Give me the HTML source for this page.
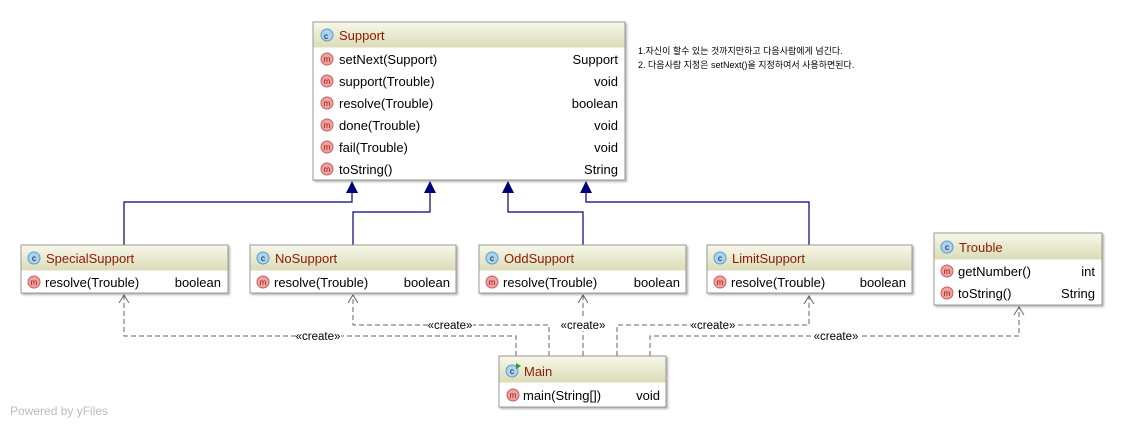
<!DOCTYPE html>
<html><head><meta charset="utf-8"><style>
html,body{margin:0;padding:0;background:#fff;}
svg{display:block;font-family:"Liberation Sans","Noto Sans CJK KR",sans-serif;}
</style></head><body>
<svg width="1129" height="428" viewBox="0 0 1129 428" xmlns="http://www.w3.org/2000/svg">
<defs>
<linearGradient id="hg" x1="0" y1="0" x2="0" y2="1"><stop offset="0" stop-color="#f7f7e9"/><stop offset="1" stop-color="#dcdcb8"/></linearGradient>
<filter id="sh" x="-5%" y="-5%" width="115%" height="120%"><feDropShadow dx="1.5" dy="1.5" stdDeviation="1" flood-color="#000" flood-opacity="0.3"/></filter>
</defs>
<!-- inheritance lines -->
<g stroke="#00007a" stroke-width="1.2" fill="none">
<polyline points="124,245 124,202 352,202 352,188"/>
<polyline points="353,245 353,212 430,212 430,188"/>
<polyline points="583,245 583,212 508,212 508,188"/>
<polyline points="809,245 809,202 586,202 586,188"/>
</g>
<g fill="#00007a">
<polygon points="352,181 346,193 358,193"/>
<polygon points="430,181 424,193 436,193"/>
<polygon points="508,181 502,193 514,193"/>
<polygon points="586,181 580,193 592,193"/>
</g>
<!-- dependency lines -->
<g stroke="#666" stroke-width="1" fill="none" stroke-dasharray="5,3">
<polyline points="516,356 516,336 124,336 124,295"/>
<polyline points="549,356 549,325 353,325 353,295"/>
<polyline points="583,356 583,295"/>
<polyline points="617,356 617,325 809,325 809,296"/>
<polyline points="650,356 650,336 1019,336 1019,307"/>
</g>
<g stroke="#666" stroke-width="1" fill="none">
<polyline points="119,303 124,295 129,303"/>
<polyline points="348,303 353,295 358,303"/>
<polyline points="578,303 583,295 588,303"/>
<polyline points="804,304 809,296 814,304"/>
<polyline points="1014,315 1019,307 1024,315"/>
</g>
<g font-size="11.5" fill="#000" text-anchor="middle">
<rect x="296" y="330" width="45" height="12" fill="#fff"/><text x="318" y="340">«create»</text>
<rect x="428" y="319" width="45" height="12" fill="#fff"/><text x="450" y="329">«create»</text>
<rect x="561" y="319" width="45" height="12" fill="#fff"/><text x="583" y="329">«create»</text>
<rect x="691" y="319" width="45" height="12" fill="#fff"/><text x="713" y="329">«create»</text>
<rect x="814" y="330" width="45" height="12" fill="#fff"/><text x="836" y="340">«create»</text>
</g>

<!-- Support -->
<g filter="url(#sh)"><rect x="313" y="22" width="312" height="158" fill="#fff" stroke="#aaa"/></g>
<rect x="313.5" y="22.5" width="311" height="25" fill="url(#hg)"/>
<rect x="313" y="22" width="312" height="158" fill="none" stroke="#999"/>
<g font-size="13">
<circle cx="327" cy="35" r="6" fill="#a9d3f0" stroke="#5a9ec9"/><text x="324" y="39" font-size="8">c</text>
<text x="339" y="40" fill="#8b1a00">Support</text>
</g>
<g font-size="13" fill="#000">
<g fill="#f0a0a0" stroke="#c86060"><circle cx="327" cy="59" r="6"/><circle cx="327" cy="81" r="6"/><circle cx="327" cy="103" r="6"/><circle cx="327" cy="125" r="6"/><circle cx="327" cy="147" r="6"/><circle cx="327" cy="169" r="6"/></g>
<g font-size="8" fill="#8b1a00" text-anchor="middle"><text x="327" y="62">m</text><text x="327" y="84">m</text><text x="327" y="106">m</text><text x="327" y="128">m</text><text x="327" y="150">m</text><text x="327" y="172">m</text></g>
<text x="339" y="64">setNext(Support)</text><text x="618" y="64" text-anchor="end">Support</text>
<text x="339" y="86">support(Trouble)</text><text x="618" y="86" text-anchor="end">void</text>
<text x="339" y="108">resolve(Trouble)</text><text x="618" y="108" text-anchor="end">boolean</text>
<text x="339" y="130">done(Trouble)</text><text x="618" y="130" text-anchor="end">void</text>
<text x="339" y="152">fail(Trouble)</text><text x="618" y="152" text-anchor="end">void</text>
<text x="339" y="174">toString()</text><text x="618" y="174" text-anchor="end">String</text>
</g>

<!-- note -->
<g font-size="9" fill="#000">
<text x="638" y="54">1.자신이 할수 있는 것까지만하고 다음사람에게 넘긴다.</text>
<text x="638" y="68">2. 다음사람 지정은 setNext()을 지정하여서 사용하면된다.</text>
</g>

<!-- small classes -->
<g font-size="13">
<!-- SpecialSupport -->
<rect x="21" y="245" width="207" height="48" fill="#fff" stroke="#999" filter="url(#sh)"/>
<rect x="21.5" y="245.5" width="206" height="25" fill="url(#hg)"/>
<circle cx="34" cy="258" r="6" fill="#a9d3f0" stroke="#5a9ec9"/><text x="34" y="261" font-size="8" text-anchor="middle">c</text>
<text x="46" y="263" fill="#8b1a00">SpecialSupport</text>
<circle cx="34" cy="282" r="6" fill="#f0a0a0" stroke="#c86060"/><text x="34" y="285" font-size="8" text-anchor="middle" fill="#8b1a00">m</text>
<text x="45" y="287">resolve(Trouble)</text><text x="221" y="287" text-anchor="end">boolean</text>
<!-- NoSupport -->
<rect x="250" y="245" width="206" height="48" fill="#fff" stroke="#999" filter="url(#sh)"/>
<rect x="250.5" y="245.5" width="205" height="25" fill="url(#hg)"/>
<circle cx="263" cy="258" r="6" fill="#a9d3f0" stroke="#5a9ec9"/><text x="263" y="261" font-size="8" text-anchor="middle">c</text>
<text x="275" y="263" fill="#8b1a00">NoSupport</text>
<circle cx="263" cy="282" r="6" fill="#f0a0a0" stroke="#c86060"/><text x="263" y="285" font-size="8" text-anchor="middle" fill="#8b1a00">m</text>
<text x="274" y="287">resolve(Trouble)</text><text x="450" y="287" text-anchor="end">boolean</text>
<!-- OddSupport -->
<rect x="479" y="245" width="207" height="48" fill="#fff" stroke="#999" filter="url(#sh)"/>
<rect x="479.5" y="245.5" width="206" height="25" fill="url(#hg)"/>
<circle cx="492" cy="258" r="6" fill="#a9d3f0" stroke="#5a9ec9"/><text x="492" y="261" font-size="8" text-anchor="middle">c</text>
<text x="504" y="263" fill="#8b1a00">OddSupport</text>
<circle cx="492" cy="282" r="6" fill="#f0a0a0" stroke="#c86060"/><text x="492" y="285" font-size="8" text-anchor="middle" fill="#8b1a00">m</text>
<text x="503" y="287">resolve(Trouble)</text><text x="680" y="287" text-anchor="end">boolean</text>
<!-- LimitSupport -->
<rect x="707" y="245" width="205" height="48" fill="#fff" stroke="#999" filter="url(#sh)"/>
<rect x="707.5" y="245.5" width="204" height="25" fill="url(#hg)"/>
<circle cx="720" cy="258" r="6" fill="#a9d3f0" stroke="#5a9ec9"/><text x="720" y="261" font-size="8" text-anchor="middle">c</text>
<text x="732" y="263" fill="#8b1a00">LimitSupport</text>
<circle cx="720" cy="282" r="6" fill="#f0a0a0" stroke="#c86060"/><text x="720" y="285" font-size="8" text-anchor="middle" fill="#8b1a00">m</text>
<text x="731" y="287">resolve(Trouble)</text><text x="906" y="287" text-anchor="end">boolean</text>
<!-- Trouble -->
<rect x="934" y="233" width="168" height="72" fill="#fff" stroke="#999" filter="url(#sh)"/>
<rect x="934.5" y="233.5" width="167" height="26" fill="url(#hg)"/>
<circle cx="947" cy="247" r="6" fill="#a9d3f0" stroke="#5a9ec9"/><text x="947" y="250" font-size="8" text-anchor="middle">c</text>
<text x="959" y="252" fill="#8b1a00">Trouble</text>
<circle cx="947" cy="271" r="6" fill="#f0a0a0" stroke="#c86060"/><text x="947" y="274" font-size="8" text-anchor="middle" fill="#8b1a00">m</text>
<circle cx="947" cy="293" r="6" fill="#f0a0a0" stroke="#c86060"/><text x="947" y="296" font-size="8" text-anchor="middle" fill="#8b1a00">m</text>
<text x="958" y="276">getNumber()</text><text x="1095" y="276" text-anchor="end">int</text>
<text x="958" y="298">toString()</text><text x="1095" y="298" text-anchor="end">String</text>
<!-- Main -->
<rect x="499" y="356" width="167" height="51" fill="#fff" stroke="#999" filter="url(#sh)"/>
<rect x="499.5" y="356.5" width="166" height="26" fill="url(#hg)"/>
<circle cx="512" cy="371" r="6" fill="#a9d3f0" stroke="#5a9ec9"/><text x="512" y="374" font-size="8" text-anchor="middle">c</text>
<polygon points="516,363 521,366 516,369" fill="#2a9a2a"/>
<text x="524" y="376" fill="#8b1a00">Main</text>
<circle cx="513" cy="395" r="6" fill="#f0a0a0" stroke="#c86060"/><text x="513" y="398" font-size="8" text-anchor="middle" fill="#8b1a00">m</text>
<text x="523" y="400">main(String[])</text><text x="660" y="400" text-anchor="end">void</text>
</g>

<text x="10" y="415" font-size="12" fill="#bbb">Powered by yFiles</text>
</svg>
</body></html>
